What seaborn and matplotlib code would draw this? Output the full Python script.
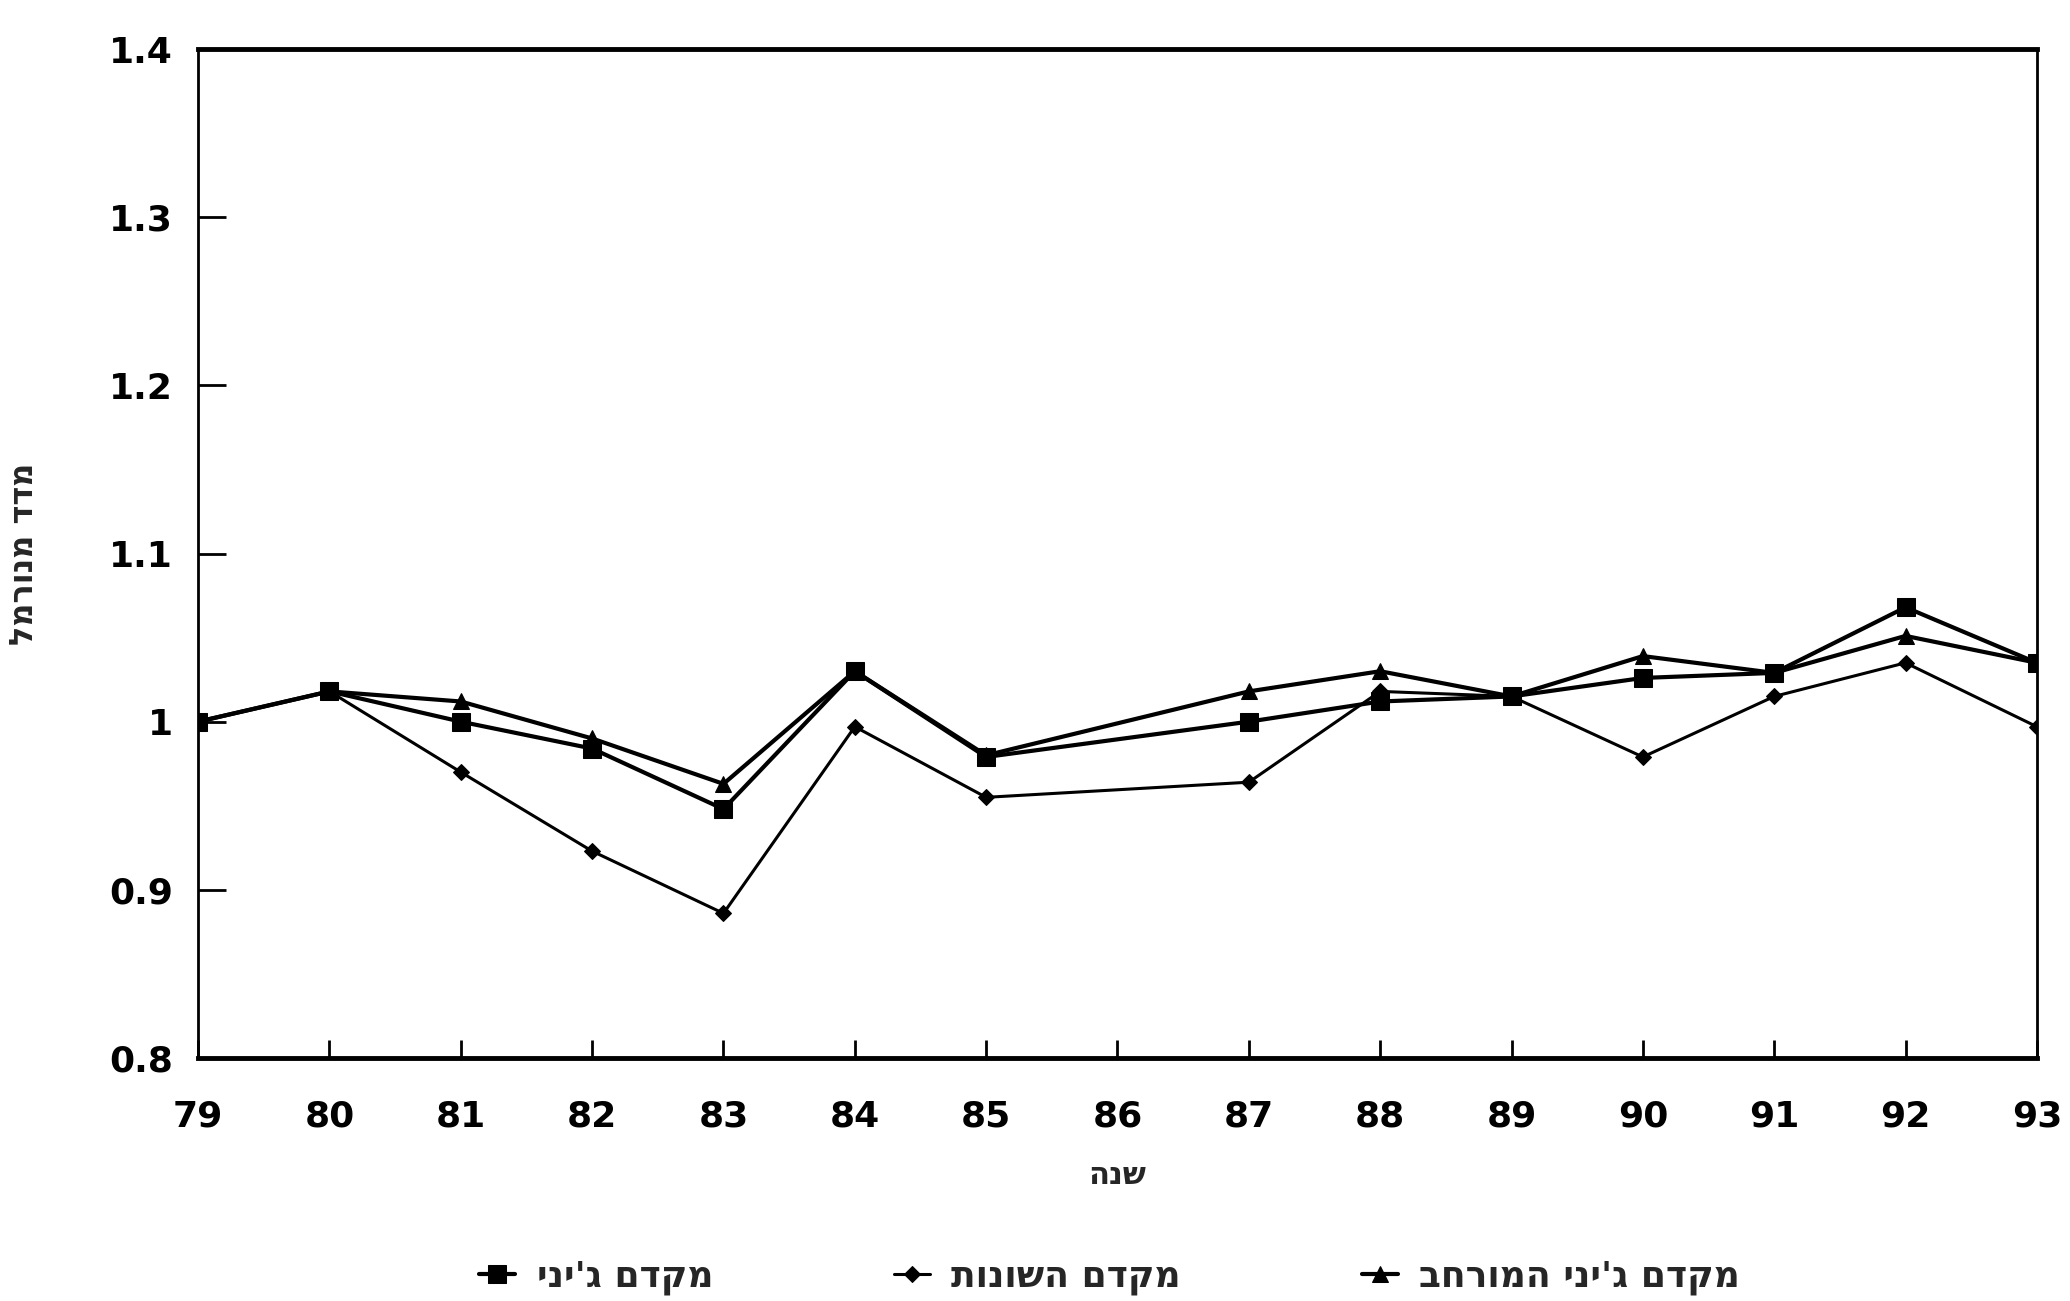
import matplotlib
matplotlib.use("Agg")
import matplotlib.pyplot as plt
import seaborn as sns
import pandas as pd

years = [79, 80, 81, 82, 83, 84, 85, 87, 88, 89, 90, 91, 92, 93]
gini = [1.000, 1.018, 1.000, 0.984, 0.948, 1.030, 0.979, 1.000, 1.012, 1.015, 1.026, 1.029, 1.068, 1.035]
variance = [1.000, 1.018, 0.970, 0.923, 0.886, 0.997, 0.955, 0.964, 1.018, 1.015, 0.979, 1.015, 1.035, 0.997]
gini_ext = [1.000, 1.018, 1.012, 0.990, 0.963, 1.030, 0.980, 1.018, 1.030, 1.015, 1.039, 1.029, 1.051, 1.035]

series_names = ["מקדם ג'יני", "מקדם השונות", "מקדם ג'יני המורחב"]
xticks = list(range(79, 94))
yticks = [0.8, 0.9, 1.0, 1.1, 1.2, 1.3, 1.4]
ytick_labels = ["0.8", "0.9", "1", "1.1", "1.2", "1.3", "1.4"]
xlabel = "שנה"
ylabel = "מדד מנורמל"


def rtl(s):
    return s[::-1]


sns.set_style("white")
plt.rcParams['font.family'] = ['DejaVu Sans']

fig = plt.figure(figsize=(20.7, 13.01), dpi=100)
ax = fig.add_axes([0.0957, 0.1868, 0.8883, 0.7755])

styles = [
    (gini, "s", 13, 3.0),
    (variance, "D", 8, 2.2),
    (gini_ext, "^", 11, 3.0),
]
for name, (vals, mk, ms, lw) in zip(series_names, styles):
    df = pd.DataFrame({"year": years, "value": vals})
    sns.lineplot(data=df, x="year", y="value", ax=ax, color="black",
                 marker=mk, markersize=ms, linewidth=lw,
                 markeredgecolor="black", label=rtl(name))

ax.set_xlim(79, 93)
ax.set_ylim(0.8, 1.4)
ax.set_xticks(xticks)
ax.set_xticklabels([str(x) for x in xticks], fontsize=26, fontweight="bold")
ax.set_yticks(yticks)
ax.set_yticklabels(ytick_labels, fontsize=26, fontweight="bold")
ax.tick_params(axis="y", which="major", left=True, direction="in", length=20,
               width=2, pad=18, colors="black")
ax.tick_params(axis="x", which="major", bottom=True, direction="in", length=13,
               width=2, pad=30, colors="black")

for side, sp in ax.spines.items():
    sp.set_visible(True)
    sp.set_color("black")
    sp.set_linewidth(2)
ax.spines["top"].set_linewidth(3.5)
ax.spines["bottom"].set_linewidth(3.5)

ax.set_xlabel(rtl(xlabel), fontsize=22, fontweight="bold", labelpad=20)
ax.set_ylabel(rtl(ylabel), fontsize=23, fontweight="bold", labelpad=50)

handles, labels = ax.get_legend_handles_labels()
ax.get_legend().remove()
fig.legend(handles, labels, loc="center", bbox_to_anchor=(0.536, 0.018), ncol=3,
           frameon=False, prop={"size": 26, "weight": "bold"},
           handlelength=1.0, handletextpad=0.6, columnspacing=5)

fig.savefig("out.png", dpi=100, facecolor="white")
